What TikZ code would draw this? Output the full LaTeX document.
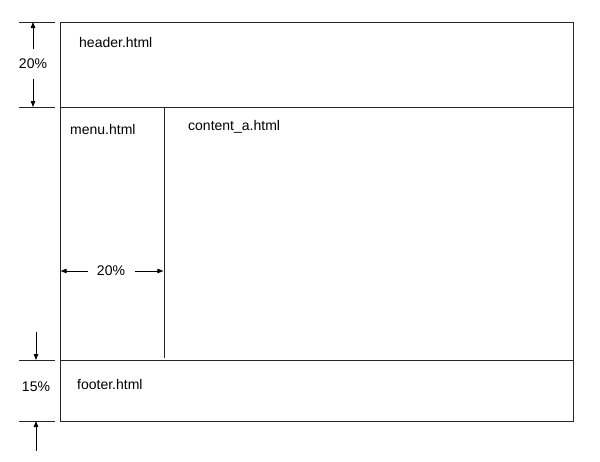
\documentclass[tikz,border=0pt]{standalone}
\usepackage{fontspec}
\setmainfont{Liberation Sans}
\usetikzlibrary{arrows.meta}
\begin{document}
\begin{tikzpicture}[x=1pt,y=-1pt,
  frame/.style={draw=black!85,line width=0.9pt},
  tick/.style={draw=black!85,line width=0.9pt},
  dim/.style={draw=black,line width=0.8pt,-{Triangle[length=6pt,width=4.5pt]}},
  lbl/.style={font=\fontsize{14}{16}\selectfont,inner sep=0pt,anchor=west},
  pct/.style={font=\fontsize{14}{16}\selectfont,inner sep=0pt}]
\useasboundingbox (0,0) rectangle (600,461);
% frame
\coordinate (TL) at (60,22);
\coordinate (BR) at (573,421);
\draw[frame] (TL) rectangle (BR);
\coordinate (hL) at (60,107);
\coordinate (hR) at (573,107);
\draw[frame] (hL) -- (hR);
\coordinate (fL) at (60,360);
\coordinate (fR) at (573,360);
\draw[frame] (fL) -- (fR);
\coordinate (mT) at (164,107);
\coordinate (mB) at (164,358);
\draw[frame] (mT) -- (mB);
% texts
\node[lbl] (header) at (79,42) {header.html};
\node[lbl] (menu) at (70,129) {menu.html};
\node[lbl] (content) at (188,127) {content\_a.html};
\node[lbl] (footer) at (77,384) {footer.html};
% left dimension ticks
\coordinate (t1a) at (19,22); \coordinate (t1b) at (55,22);
\coordinate (t2a) at (19,107); \coordinate (t2b) at (55,107);
\coordinate (t3a) at (19,360); \coordinate (t3b) at (55,360);
\coordinate (t4a) at (19,421); \coordinate (t4b) at (55,421);
\draw[tick] (t1a) -- (t1b);
\draw[tick] (t2a) -- (t2b);
\draw[tick] (t3a) -- (t3b);
\draw[tick] (t4a) -- (t4b);
% header 20%
\node[pct] (h20) at (33,64) {20\%};
\coordinate (a1s) at (33,49); \coordinate (a1e) at (33,22);
\coordinate (a2s) at (33,79); \coordinate (a2e) at (33,107);
\draw[dim] (a1s) -- (a1e);
\draw[dim] (a2s) -- (a2e);
% footer 15%
\node[pct] (f15) at (36,387) {15\%};
\coordinate (a3s) at (36,332); \coordinate (a3e) at (36,360);
\coordinate (a4s) at (36,451); \coordinate (a4e) at (36,421);
\draw[dim] (a3s) -- (a3e);
\draw[dim] (a4s) -- (a4e);
% menu 20%
\node[pct] (m20) at (111,271) {20\%};
\coordinate (a5s) at (88,271); \coordinate (a5e) at (60.6,271);
\coordinate (a6s) at (135,271); \coordinate (a6e) at (163.4,271);
\draw[dim] (a5s) -- (a5e);
\draw[dim] (a6s) -- (a6e);
\end{tikzpicture}
\end{document}
